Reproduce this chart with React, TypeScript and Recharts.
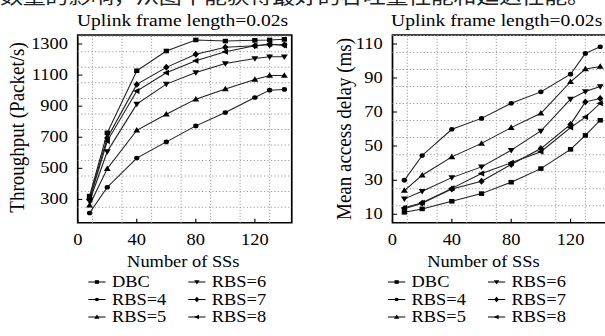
import React from "react";
import {
  LineChart,
  Line,
  XAxis,
  YAxis,
  ReferenceLine,
  ReferenceArea,
} from "recharts";

// the source figure is stretched sideways, so everything is drawn narrow and scaled in x
const STRETCH = 1.15;
const SERIF = '"Liberation Serif", "Times New Roman", serif';

const ssCounts = [8, 20, 40, 60, 80, 100, 120, 130, 140];
const seriesNames = ["DBC", "RBS=4", "RBS=5", "RBS=6", "RBS=7", "RBS=8"];
const seriesShapes = ["square", "circle", "up", "down", "diamond", "left"];

// throughput (Packet/s)
const thrDBC = [321, 728, 1128, 1255, 1326, 1319, 1324, 1326, 1330];
const thrRBS4 = [212, 378, 566, 670, 773, 859, 956, 1003, 1008];
const thrRBS5 = [262, 498, 745, 848, 945, 1010, 1072, 1097, 1098];
const thrRBS6 = [288, 608, 913, 1042, 1117, 1175, 1207, 1218, 1218];
const thrRBS7 = [308, 695, 1040, 1150, 1234, 1279, 1289, 1295, 1295];
const thrRBS8 = [298, 675, 997, 1115, 1192, 1250, 1289, 1300, 1290];

// mean access delay (ms)
const dlyDBC = [11.1, 13.1, 17.6, 22.1, 28.8, 36.8, 48.1, 56.3, 65.2];
const dlyRBS4 = [30, 44.5, 59.9, 66.3, 75.2, 81.9, 92.3, 104.5, 108.4];
const dlyRBS5 = [23.9, 32.9, 43.7, 51.6, 60.9, 69.3, 87.8, 95.3, 96.8];
const dlyRBS6 = [19, 23.5, 31.5, 37.8, 47.6, 58.9, 77.6, 82.1, 85];
const dlyRBS7 = [13.2, 16.4, 24.8, 29.4, 39.2, 48.6, 62.8, 76, 78];
const dlyRBS8 = [13.8, 16.8, 25.2, 33.9, 40.2, 46.7, 60.9, 67.1, 75.2];

const xTicks = [0, 40, 80, 120];
const xGrid = [10, 30, 50, 70, 90, 110, 130];
const thrTicks = [300, 500, 700, 900, 1100, 1300];
const thrGrid = [250, 350, 450, 550, 650, 750, 850, 950, 1050, 1150, 1250, 1350];
const dlyTicks = [10, 30, 50, 70, 90, 110];
const dlyGrid = [15, 25, 35, 45, 55, 65, 75, 85, 95, 105, 115];

const keys = ["s0", "s1", "s2", "s3", "s4", "s5"];

function buildRows(series: number[][]) {
  return ssCounts.map((x, i) => {
    const row: Record<string, number> = { x };
    series.forEach((s, k) => (row[keys[k]] = s[i]));
    return row;
  });
}

const thrRows = buildRows([thrDBC, thrRBS4, thrRBS5, thrRBS6, thrRBS7, thrRBS8]);
const dlyRows = buildRows([dlyDBC, dlyRBS4, dlyRBS5, dlyRBS6, dlyRBS7, dlyRBS8]);

function Marker({ cx, cy, shape, r = 2.3 }: { cx: number; cy: number; shape: string; r?: number }) {
  const fill = "#000";
  if (shape === "square")
    return <rect x={cx - r} y={cy - r} width={2 * r} height={2 * r} fill={fill} />;
  if (shape === "circle") return <circle cx={cx} cy={cy} r={r} fill={fill} />;
  let pts: number[][] = [];
  if (shape === "up")
    pts = [[cx, cy - r * 1.4], [cx - r * 1.3, cy + r], [cx + r * 1.3, cy + r]];
  if (shape === "down")
    pts = [[cx, cy + r * 1.4], [cx - r * 1.3, cy - r], [cx + r * 1.3, cy - r]];
  if (shape === "diamond")
    pts = [[cx, cy - r * 1.5], [cx + r * 1.2, cy], [cx, cy + r * 1.5], [cx - r * 1.2, cy]];
  if (shape === "left")
    pts = [[cx - r * 1.4, cy], [cx + r, cy - r * 1.3], [cx + r, cy + r * 1.3]];
  return <polygon points={pts.map((p) => p.join(",")).join(" ")} fill={fill} />;
}

const XTick = (p: any) => (
  <g>
    <line x1={p.x} x2={p.x} y1={p.y} y2={p.y - 4} stroke="#000" />
    <text x={p.x} y={p.y + 17.5} textAnchor="middle" dominantBaseline="central"
      fontFamily={SERIF} fontSize={16} fill="#000">
      {p.payload.value}
    </text>
  </g>
);

const YTick = (p: any) => (
  <g>
    <line x1={p.x} x2={p.x + 4} y1={p.y} y2={p.y} stroke="#000" />
    <text x={p.x - 8.5} y={p.y} textAnchor="end" dominantBaseline="central"
      fontFamily={SERIF} fontSize={16} fill="#000">
      {p.payload.value}
    </text>
  </g>
);

function Panel({
  left, width, yAxisWidth, rightMargin, rows, domain, ticks, grid,
}: {
  left: number; width: number; yAxisWidth: number; rightMargin: number;
  rows: Record<string, number>[]; domain: [number, number]; ticks: number[]; grid: number[];
}) {
  return (
    <div style={{ position: "absolute", left, top: 0 }}>
      <LineChart width={width} height={336} data={rows}
        margin={{ top: 35, right: rightMargin, bottom: 93.3, left: 0 }}>
        <XAxis type="number" dataKey="x" domain={[0, 145]} ticks={xTicks} interval={0}
          axisLine={false} tickLine={false} tickSize={0} tickMargin={0} height={20}
          tick={XTick} allowDataOverflow />
        <YAxis type="number" domain={domain} ticks={ticks} interval={0} width={yAxisWidth}
          axisLine={false} tickLine={false} tickSize={0} tickMargin={0}
          tick={YTick} allowDataOverflow />
        {xGrid.map((v) => (
          <ReferenceLine key={`gx${v}`} x={v} stroke="#9a9a9a" strokeDasharray="1 2" />
        ))}
        {grid.map((v) => (
          <ReferenceLine key={`gy${v}`} y={v} stroke="#9a9a9a" strokeDasharray="1 2" />
        ))}
        <ReferenceArea x1={0} x2={145} y1={domain[0]} y2={domain[1]}
          fill="none" fillOpacity={0} stroke="#000" strokeWidth={1.5} />
        {keys.map((k, i) => (
          <Line key={k} dataKey={k} name={seriesNames[i]} stroke="#222" strokeWidth={1}
            isAnimationActive={false}
            dot={(d: any) => (
              <Marker key={`${k}-${d.index}`} cx={d.cx} cy={d.cy} shape={seriesShapes[i]} />
            )} />
        ))}
      </LineChart>
    </div>
  );
}

function Legend({ x1, x2 }: { x1: number; x2: number }) {
  const rowsY = [282, 299.5, 317];
  return (
    <g>
      {seriesNames.map((n, i) => {
        const x = i < 3 ? x1 : x2;
        const y = rowsY[i % 3];
        return (
          <g key={n}>
            <line x1={x} x2={x + 15} y1={y} y2={y} stroke="#000" />
            <Marker cx={x + 7.5} cy={y} shape={seriesShapes[i]} r={1.8} />
            <text x={x + 20.5} y={y} dominantBaseline="central" fontFamily={SERIF}
              fontSize={16} fill="#000">
              {n}
            </text>
          </g>
        );
      })}
    </g>
  );
}

export default function App() {
  return (
    <div style={{ position: "absolute", left: 0, top: 0, width: 605, height: 336,
      overflow: "hidden", background: "#fff" }}>
      <div style={{ position: "absolute", left: 0, top: 0, width: 530, height: 336,
        transform: `scaleX(${STRETCH})`, transformOrigin: "0 0" }}>
        <Panel left={0} width={263} yAxisWidth={67.6} rightMargin={9.3}
          rows={thrRows} domain={[150, 1358]} ticks={thrTicks} grid={thrGrid} />
        <Panel left={263} width={265.4} yAxisWidth={78.3} rightMargin={0}
          rows={dlyRows} domain={[5, 115.3]} ticks={dlyTicks} grid={dlyGrid} />
        <svg width={530} height={336}
          style={{ position: "absolute", left: 0, top: 0, pointerEvents: "none" }}>
          {/* tail of the page text above the figure, cut off by the crop as in the scan */}
          <text x={0} y={4} fontFamily='"Noto Sans CJK SC", sans-serif' fontSize={20}
            textLength={513} lengthAdjust="spacing" fill="#222">
            数量的影响，从图中能获得最好的吞吐量性能和延迟性能。
          </text>
          <text x={158.7} y={20} textAnchor="middle" dominantBaseline="central"
            fontFamily={SERIF} fontSize={17}>Uplink frame length=0.02s</text>
          <text x={431.9} y={20} textAnchor="middle" dominantBaseline="central"
            fontFamily={SERIF} fontSize={17}>Uplink frame length=0.02s</text>
          <text x={14.8} y={127.5} textAnchor="middle" dominantBaseline="central"
            transform="rotate(-90 14.8 127.5)" fontFamily={SERIF} fontSize={19}>
            Throughput (Packet/s)
          </text>
          <text x={298.3} y={129} textAnchor="middle" dominantBaseline="central"
            transform="rotate(-90 298.3 129)" fontFamily={SERIF} fontSize={19}>
            Mean access delay (ms)
          </text>
          <text x={159.4} y={261.7} textAnchor="middle" dominantBaseline="central"
            fontFamily={SERIF} fontSize={16}>Number of SSs</text>
          <text x={420.3} y={261.7} textAnchor="middle" dominantBaseline="central"
            fontFamily={SERIF} fontSize={16}>Number of SSs</text>
          <Legend x1={76.8} x2={163.7} />
          <Legend x1={337.4} x2={424.3} />
        </svg>
      </div>
    </div>
  );
}
